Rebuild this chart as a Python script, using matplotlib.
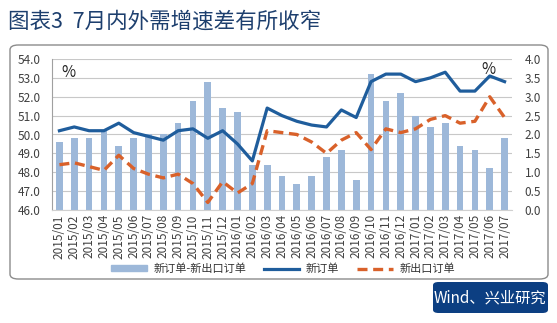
import matplotlib
matplotlib.use('Agg')
import matplotlib.pyplot as plt
from matplotlib.patches import FancyBboxPatch, Patch
from matplotlib.lines import Line2D
import numpy as np

plt.rcParams['font.family'] = ['Noto Sans CJK SC', 'DejaVu Sans']

# PMI new orders / new export orders, 2015/01 - 2017/07
months = ['2015/01', '2015/02', '2015/03', '2015/04', '2015/05', '2015/06',
          '2015/07', '2015/08', '2015/09', '2015/10', '2015/11', '2015/12',
          '2016/01', '2016/02', '2016/03', '2016/04', '2016/05', '2016/06',
          '2016/07', '2016/08', '2016/09', '2016/10', '2016/11', '2016/12',
          '2017/01', '2017/02', '2017/03', '2017/04', '2017/05', '2017/06',
          '2017/07']
new_orders = [50.2, 50.4, 50.2, 50.2, 50.6, 50.1, 49.9, 49.7, 50.2, 50.3,
              49.8, 50.2, 49.5, 48.6, 51.4, 51.0, 50.7, 50.5, 50.4, 51.3,
              50.9, 52.8, 53.2, 53.2, 52.8, 53.0, 53.3, 52.3, 52.3, 53.1,
              52.8]
export_orders = [48.4, 48.5, 48.3, 48.1, 48.9, 48.2, 47.9, 47.7, 47.9, 47.4,
                 46.4, 47.5, 46.9, 47.4, 50.2, 50.1, 50.0, 49.6, 49.0, 49.7,
                 50.1, 49.2, 50.3, 50.1, 50.3, 50.8, 51.0, 50.6, 50.7, 52.0,
                 50.9]
gap = [1.8, 1.9, 1.9, 2.1, 1.7, 1.9, 2.0, 2.0, 2.3, 2.9, 3.4, 2.7, 2.6, 1.2,
       1.2, 0.9, 0.7, 0.9, 1.4, 1.6, 0.8, 3.6, 2.9, 3.1, 2.5, 2.2, 2.3, 1.7,
       1.6, 1.1, 1.9]
left_ticks = [46.0, 47.0, 48.0, 49.0, 50.0, 51.0, 52.0, 53.0, 54.0]
right_ticks = [0.0, 0.5, 1.0, 1.5, 2.0, 2.5, 3.0, 3.5, 4.0]

W, H = 557, 323
fig = plt.figure(figsize=(W / 100, H / 100), dpi=100)

navy = '#1d3f6e'
bar_c = '#9db8d9'
line_c = '#1f5d9c'
orange = '#d9612a'
grid_c = '#c8c8c8'
tick_c = '#404040'

# title
fig.text(8 / W, 1 - 22 / H, '图表3  7月内外需增速差有所收窄', fontsize=15.5,
         color=navy, va='center', ha='left')

# rounded frame around the chart
frame = FancyBboxPatch((10 / W, 1 - 279 / H), 538 / W, 234 / H,
                       boxstyle='round,pad=0,rounding_size=0.015',
                       transform=fig.transFigure, fc='white', ec='#8c8c8c',
                       lw=1.0, zorder=-2)
fig.patches.append(frame)

# source box
src = FancyBboxPatch((433 / W, 1 - 313 / H), 115 / W, 31 / H,
                     boxstyle='round,pad=0,rounding_size=0.01',
                     transform=fig.transFigure, fc='#0c3f82', ec='none',
                     zorder=-1)
fig.patches.append(src)
fig.text(490 / W, 1 - 298 / H, 'Wind、兴业研究', fontsize=11, color='white',
         ha='center', va='center')

ax = fig.add_axes([52 / W, 1 - 210 / H, 460 / W, 151 / H])
ax2 = ax.twinx()
x = np.arange(len(months))

ax2.bar(x, gap, width=0.45, color=bar_c, zorder=2)
ax2.set_ylim(0, 4)
ax2.set_yticks(right_ticks)
ax2.set_yticklabels(['%.1f' % v for v in right_ticks])
ax2.yaxis.grid(True, color=grid_c, lw=0.8, zorder=0)
ax2.set_axisbelow(True)

ax.plot(x, new_orders, color=line_c, lw=2.3, zorder=3)
ax.plot(x, export_orders, color=orange, lw=2.4, dashes=(3, 1.7), zorder=3)
ax.set_ylim(46, 54)
ax.set_yticks(left_ticks)
ax.set_yticklabels(['%.1f' % v for v in left_ticks])
ax.set_xlim(-0.5, len(months) - 0.5)
ax.set_xticks(x)
ax.set_xticklabels(months, rotation=90)
ax.set_zorder(ax2.get_zorder() + 1)
ax.patch.set_visible(False)

for a in (ax, ax2):
    for s in a.spines.values():
        s.set_visible(False)
    a.tick_params(length=0, colors=tick_c, labelsize=8.5)
ax.tick_params(axis='x', labelsize=8.5, pad=3)
ax.tick_params(axis='y', pad=8)
ax2.tick_params(axis='y', pad=9)
ax.spines['left'].set_visible(True)
ax.spines['left'].set_color('#a0a0a0')
ax.spines['bottom'].set_visible(True)
ax.spines['bottom'].set_color('#d0d0d0')

ax.text(0.02, 0.88, '%', transform=ax.transAxes, fontsize=11, color='#222222')
ax.text(0.965, 0.9, '%', transform=ax.transAxes, fontsize=11,
        color='#222222', ha='right')

handles = [Patch(color=bar_c),
           Line2D([], [], color=line_c, lw=2.3),
           Line2D([], [], color=orange, lw=2.4, dashes=(3, 1.7))]
labels = ['新订单-新出口订单', '新订单', '新出口订单']
fig.legend(handles, labels, loc='center', bbox_to_anchor=(283 / W, 1 - 269 / H),
           ncol=3, frameon=False, fontsize=8, handlelength=3.2,
           handleheight=0.4, columnspacing=1.6, handletextpad=0.6,
           labelcolor='#333333')

fig.savefig('out.png', dpi=100)
